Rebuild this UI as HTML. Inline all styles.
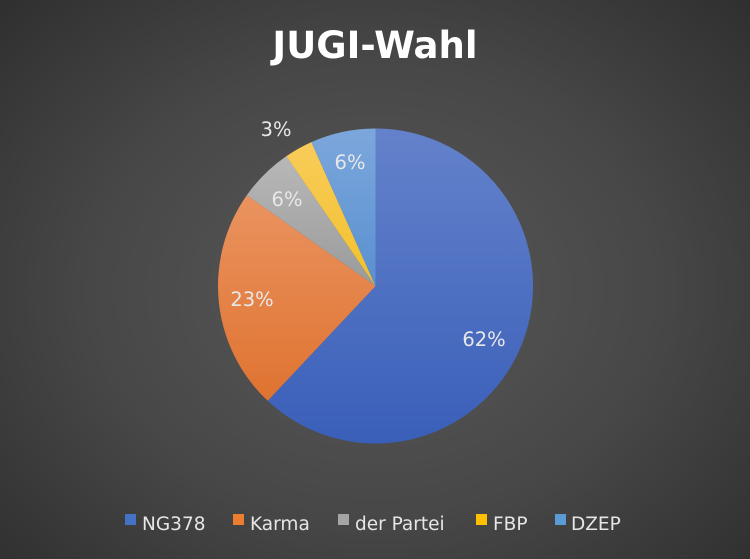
<!DOCTYPE html>
<html><head><meta charset="utf-8"><style>
html,body{margin:0;padding:0}
body{width:750px;height:559px;overflow:hidden;background:radial-gradient(ellipse 520px 420px at 375px 290px,#595959 0%,#474747 55%,#2f2f2f 100%);font-family:"Liberation Sans","DejaVu Sans",sans-serif}
</style></head><body>
<svg width="750" height="559" xmlns="http://www.w3.org/2000/svg" style="position:absolute;left:0;top:0">
<defs>
<linearGradient id="b" x1="0" y1="0" x2="0" y2="1"><stop offset="0" stop-color="#6482cb"/><stop offset="1" stop-color="#3a5fb9"/></linearGradient>
<linearGradient id="o" x1="0" y1="0" x2="0" y2="1"><stop offset="0" stop-color="#ea9360"/><stop offset="1" stop-color="#df7330"/></linearGradient>
<linearGradient id="g" x1="0" y1="0" x2="0" y2="1"><stop offset="0" stop-color="#b8b8b8"/><stop offset="1" stop-color="#9a9a9a"/></linearGradient>
<linearGradient id="y" x1="0" y1="0" x2="0" y2="1"><stop offset="0" stop-color="#f8cc5a"/><stop offset="1" stop-color="#f2c12c"/></linearGradient>
<linearGradient id="l" x1="0" y1="0" x2="0" y2="1"><stop offset="0" stop-color="#7ca7dc"/><stop offset="1" stop-color="#5990d0"/></linearGradient>
</defs>
<text x="375" y="58" text-anchor="middle" fill="#fff" font-size="37" font-weight="bold" font-family="DejaVu Sans,sans-serif">JUGI-Wahl</text>
<path d="M375.5,286 L375.5,128.5 A157.5,157.5 0 1 1 267.7,400.8 Z" fill="url(#b)"/>
<path d="M375.5,286 L267.7,400.8 A157.5,157.5 0 0 1 246.8,195.2 Z" fill="url(#o)"/>
<path d="M375.5,286 L246.8,195.2 A157.5,157.5 0 0 1 286.3,156.2 Z" fill="url(#g)"/>
<path d="M375.5,286 L286.3,156.2 A157.5,157.5 0 0 1 311.4,142.1 Z" fill="url(#y)"/>
<path d="M375.5,286 L311.4,142.1 A157.5,157.5 0 0 1 375.5,128.5 Z" fill="url(#l)"/>
<g font-family="DejaVu Sans,sans-serif" font-size="19.5" fill="#e8e8e8" text-anchor="middle">
<text x="484" y="346">62%</text>
<text x="252" y="306">23%</text>
<text x="287" y="206">6%</text>
<text x="276" y="136">3%</text>
<text x="350" y="169">6%</text>
</g>
<g font-family="DejaVu Sans,sans-serif" font-size="18.5" fill="#e6e6e6">
<rect x="125" y="514" width="11" height="11" fill="#4472c4"/><text x="142" y="530">NG378</text>
<rect x="233" y="514" width="11" height="11" fill="#ed7d31"/><text x="250" y="530">Karma</text>
<rect x="338" y="514" width="11" height="11" fill="#a5a5a5"/><text x="355" y="530">der Partei</text>
<rect x="476" y="514" width="11" height="11" fill="#ffc000"/><text x="493" y="530">FBP</text>
<rect x="555" y="514" width="11" height="11" fill="#5b9bd5"/><text x="571" y="530">DZEP</text>
</g>
</svg>
</body></html>
